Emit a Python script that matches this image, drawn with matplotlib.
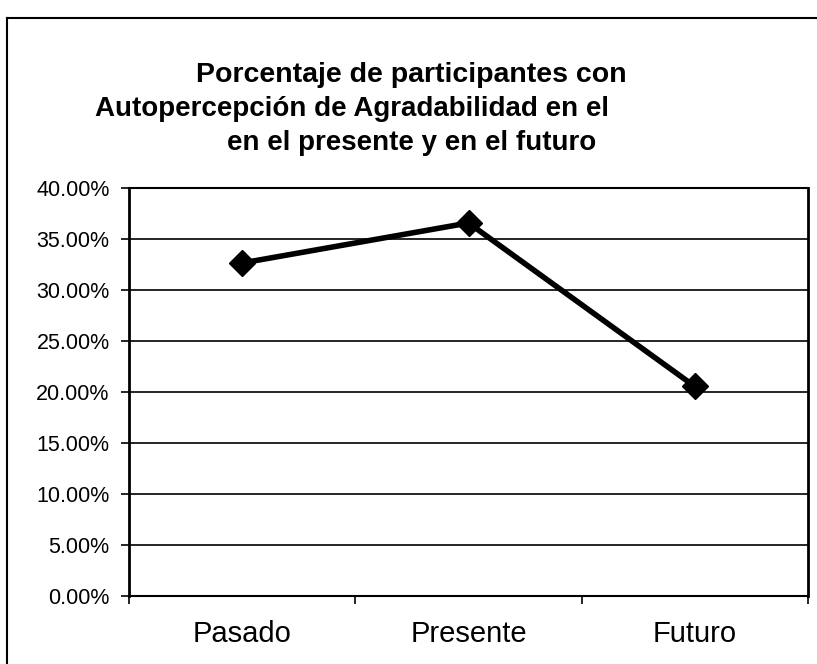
import matplotlib.pyplot as plt
from matplotlib.lines import Line2D
from matplotlib.ticker import FuncFormatter, MultipleLocator

# data
categories = ['Pasado', 'Presente', 'Futuro']
porcentajes = [32.65, 36.57, 20.54]

title_lines = ['Porcentaje de participantes con',
               'Autopercepción de Agradabilidad en el',
               'en el presente y en el futuro']

plt.rcParams['font.family'] = ['Liberation Sans', 'DejaVu Sans']

fig = plt.figure(figsize=(8.17, 6.64), dpi=100)
ax = fig.add_axes([0.158, 0.1024, 0.831, 0.6145])

x = range(len(categories))
ax.plot(x, porcentajes, color='black', linewidth=4, marker='D', markersize=13,
        markerfacecolor='black', markeredgecolor='black', zorder=3)

ax.set_xlim(-0.5, len(categories) - 0.5)
ax.set_ylim(0, 40)
ax.yaxis.set_major_locator(MultipleLocator(5))
ax.yaxis.set_major_formatter(FuncFormatter(lambda v, p: f'{v:.2f}%'))
ax.grid(axis='y', color='black', linewidth=1.2)
ax.set_axisbelow(True)

ax.set_xticks([-0.5, 0.5, 1.5, 2.5])
ax.set_xticklabels([])
ax.set_xticks(list(x), minor=True)
ax.set_xticklabels(categories, minor=True, fontsize=21)
ax.tick_params(axis='x', which='minor', length=0, pad=17)
ax.tick_params(axis='x', which='major', direction='out', length=6, width=1.2)
ax.tick_params(axis='y', direction='out', length=6, width=1.2, labelsize=15.5, pad=8)

for side in ['left', 'bottom', 'top', 'right']:
    ax.spines[side].set_linewidth(2 if side in ('left', 'right') else 1.5)
    ax.spines[side].set_color('black')

# title, three separately placed lines as in the original
fig.text(0.240, 0.887, title_lines[0], fontsize=20.5, fontweight='bold', va='center', ha='left')
fig.text(0.116, 0.836, title_lines[1], fontsize=20, fontweight='bold', va='center', ha='left')
fig.text(0.278, 0.785, title_lines[2], fontsize=20, fontweight='bold', va='center', ha='left')

# outer chart frame (left and top edges visible)
fig.add_artist(Line2D([0.009, 0.009], [0.0, 0.973], transform=fig.transFigure, color='black', linewidth=1.5))
fig.add_artist(Line2D([0.009, 1.0], [0.973, 0.973], transform=fig.transFigure, color='black', linewidth=1.5))

fig.savefig('out.png', dpi=100)
